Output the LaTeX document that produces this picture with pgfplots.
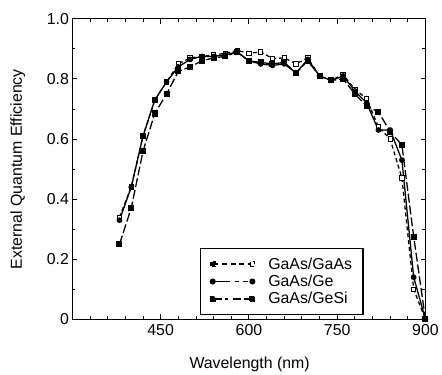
\documentclass[border=0pt]{standalone}
\usepackage{fontspec}
\setmainfont{Liberation Sans}
\usepackage{pgfplots}
\pgfplotsset{compat=1.18}
\usetikzlibrary{calc}

\pgfplotstableread{
x    y
380  0.34
400  0.44
420  0.61
440  0.73
460  0.79
480  0.85
500  0.87
520  0.875
540  0.88
560  0.885
580  0.895
600  0.885
620  0.89
640  0.868
660  0.87
680  0.85
700  0.87
720  0.81
740  0.795
760  0.815
780  0.765
800  0.735
820  0.64
840  0.60
860  0.47
880  0.10
900  0.0
}\gaasgaas

\pgfplotstableread{
x    y
380  0.33
400  0.44
420  0.61
440  0.73
460  0.79
480  0.84
500  0.865
520  0.875
540  0.875
560  0.88
580  0.89
600  0.86
620  0.85
640  0.845
660  0.85
680  0.82
700  0.865
720  0.81
740  0.795
760  0.81
780  0.76
800  0.72
820  0.63
840  0.63
860  0.53
880  0.14
900  0.0
}\gaasge

\pgfplotstableread{
x    y
380  0.25
400  0.37
420  0.56
440  0.685
460  0.75
480  0.825
500  0.84
520  0.86
540  0.87
560  0.875
580  0.89
600  0.86
620  0.855
640  0.85
660  0.855
680  0.82
700  0.86
720  0.81
740  0.795
760  0.80
780  0.75
800  0.71
820  0.69
840  0.625
860  0.58
880  0.275
900  0.0
}\gaasgesi

\begin{document}
\begin{tikzpicture}
\begin{axis}[
  scale only axis,
  width=356pt, height=303pt,
  xmin=300, xmax=900, ymin=0, ymax=1,
  axis line style={line width=1.1pt},
  xtick={450,600,750,900},
  minor xtick={330,360,390,420,480,510,540,570,630,660,690,720,780,810,840,870},
  ytick={0,0.2,0.4,0.6,0.8,1.0},
  yticklabels={0,0.2,0.4,0.6,0.8,1.0},
  minor ytick={0.1,0.3,0.5,0.7,0.9},
  major tick length=5pt, minor tick length=3pt,
  tick style={line width=0.9pt, black},
  /pgf/number format/assume math mode=true,
  tick label style={font=\fontsize{16}{19}\selectfont},
  xticklabel style={yshift=-2pt},
  label style={font=\fontsize{16}{19}\selectfont},
  xlabel={Wavelength (nm)},
  ylabel={External Quantum Efficiency},
  xlabel style={at={(axis description cs:0.502,-0.1485)}, anchor=center},
  ylabel style={at={(axis description cs:-0.1545,0.5)}, anchor=center},
  legend style={at={(0.362,0.013)}, anchor=south west, draw=black, line width=1.1pt,
    font=\fontsize{16}{19}\selectfont, inner xsep=9pt, inner ysep=7.5pt,
    row sep=0.5pt,
    /tikz/every odd column/.append style={column sep=11pt}},
  legend cell align=left,
]
\path (rel axis cs:0,0) coordinate (sw) (rel axis cs:1,1) coordinate (ne);
\addplot[black, line width=1.3pt, dash pattern=on 4pt off 3pt, mark=square*, mark size=2.2pt,
  mark options={solid, fill=white, line width=0.9pt},
  legend image code/.code={
    \draw[black, line width=1.2pt, dash pattern=on 5pt off 4pt] (0pt,0pt) -- (40pt,0pt);
    \draw[black, line width=0.9pt, fill=white] (37.8pt,-2.2pt) rectangle (42.2pt,2.2pt);
    \fill[black] (-2.4pt,-2.4pt) rectangle (2.4pt,2.4pt);
  }] table[x=x,y=y] {\gaasgaas};
\addlegendentry{GaAs/GaAs}
\addplot[black, line width=1.3pt, solid, mark=*, mark size=2.2pt,
  mark options={solid, fill=black},
  legend image code/.code={
    \draw[black, line width=1.2pt] (0pt,0pt) -- (17pt,0pt);
    \draw[black, line width=1.2pt, dash pattern=on 5pt off 4pt] (22pt,0pt) -- (40pt,0pt);
    \fill[black] (0pt,0pt) circle (2.4pt) (40pt,0pt) circle (2.4pt);
  }] table[x=x,y=y] {\gaasge};
\addlegendentry{GaAs/Ge}
\addplot[black, line width=1.3pt, dash pattern=on 9pt off 3pt, mark=square*, mark size=2.4pt,
  mark options={solid, fill=black},
  legend image code/.code={
    \draw[black, line width=1.2pt] (0pt,0pt) -- (15pt,0pt);
    \draw[black, line width=1.2pt] (20pt,0pt) -- (40pt,0pt);
    \fill[black] (-2.4pt,-2.4pt) rectangle (2.4pt,2.4pt) (37.6pt,-2.4pt) rectangle (42.4pt,2.4pt);
  }] table[x=x,y=y] {\gaasgesi};
\addlegendentry{GaAs/GeSi}
\end{axis}
\path[use as bounding box] ($(sw)+(-73pt,-56pt)$) rectangle ($(ne)+(13pt,19pt)$);
\end{tikzpicture}
\end{document}
